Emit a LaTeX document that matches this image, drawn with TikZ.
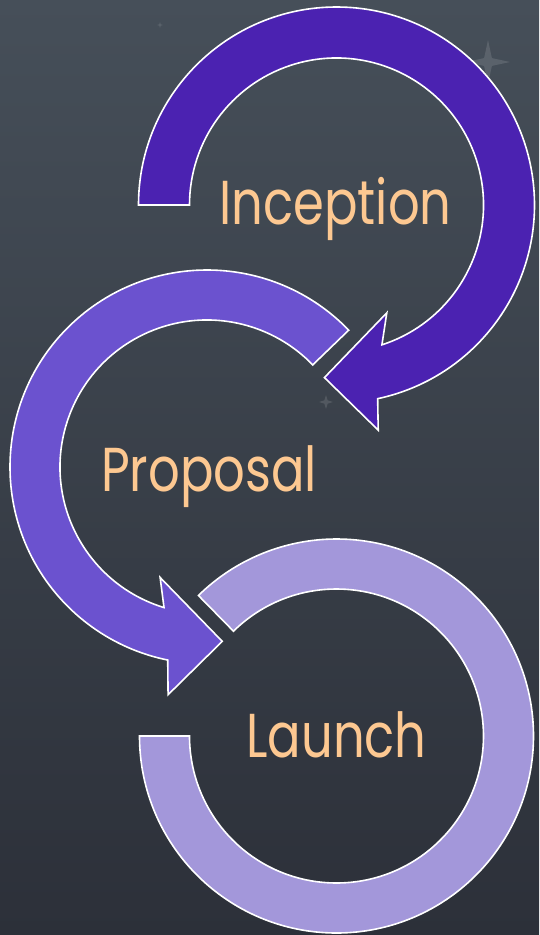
\documentclass[tikz,border=0pt]{standalone}
\usepackage{fontspec}
\usepackage{tikz}
\usetikzlibrary{shapes.geometric}
\newfontfamily\labelfont[FakeStretch=0.8]{Poppins}
\definecolor{peach}{HTML}{FDC891}
\definecolor{incol}{HTML}{4B22B1}
\definecolor{procol}{HTML}{6B52CF}
\definecolor{laucol}{HTML}{A397DA}
\definecolor{boardtop}{HTML}{464F59}
\definecolor{boardbot}{HTML}{2C3039}
\tikzset{
	ring/.style={draw=white,line width=1.6pt,line join=miter,fill=#1},
	lbl/.style={text=peach,font=\labelfont\fontsize{62}{62}\selectfont,anchor=base,inner sep=0pt},
	twinkle/.style={star,star points=4,star point ratio=#1,fill=white,opacity=0.12,inner sep=0pt}
}

\begin{document}
\begin{tikzpicture}[x=1pt,y=-1pt]
	\useasboundingbox (0,0) rectangle (539,935);
	\shade[top color=boardtop,bottom color=boardbot] (0,0) rectangle (539,935);

	% faint stars on the board
	\node [twinkle=3,minimum size=6pt] (s1) at (160,25) {};
	\node [twinkle=4,minimum size=44pt] (s2) at (488,62) {};
	\node [twinkle=3,minimum size=14pt] (s3) at (326,402) {};

	\coordinate (cI) at (336.5,205);
	\coordinate (cP) at (207,467);
	\coordinate (cL) at (336.5,736);

	% launch ring
	\begin{scope}[shift={(cL)}]
		\path [ring=laucol] (180:197) arc[start angle=180,end angle=-134.5,radius=197]
			-- (-134.5:147) arc[start angle=-134.5,end angle=180,radius=147] -- cycle;
	\end{scope}

	% proposal arrow
	\begin{scope}[shift={(cP)}]
		\path [ring=procol] (-44:197) arc[start angle=-44,end angle=-258.5,radius=197]
			-- (-260.3:231) -- (-275:175) -- (-247:120) -- (-253:147)
			arc[start angle=-253,end angle=-44,radius=147] -- cycle;
	\end{scope}

	% inception arrow
	\begin{scope}[shift={(cI)}]
		\path [ring=incol] (180:198) arc[start angle=180,end angle=438,radius=198]
			-- (439.5:229) -- (454:173) -- (425:119) -- (432:147)
			arc[start angle=432,end angle=180,radius=147] -- cycle;
	\end{scope}

	\node [lbl] (inception) at (335.5,224) {Inception};
	\node [lbl] (proposal) at (209,491) {Proposal};
	\node [lbl] (launch) at (336.5,757) {Launch};
\end{tikzpicture}
\end{document}
